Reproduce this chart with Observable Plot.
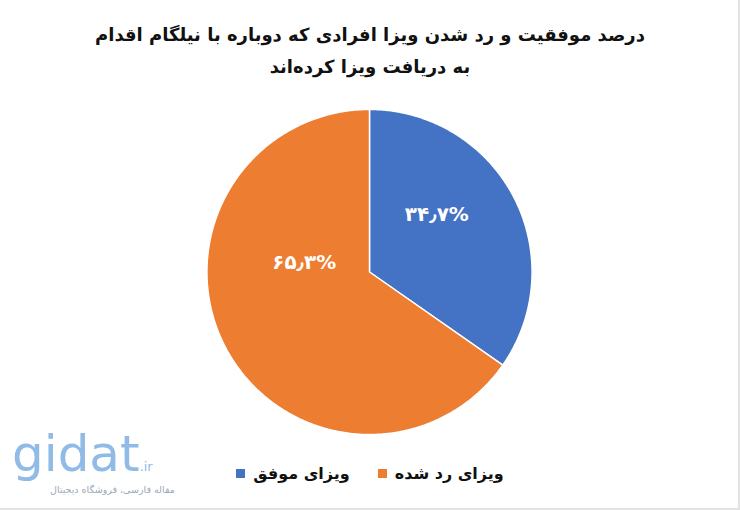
<!DOCTYPE html>
<html>
<head>
<meta charset="utf-8">
<script src="https://cdn.jsdelivr.net/npm/d3@7"></script>
<script src="https://cdn.jsdelivr.net/npm/@observablehq/plot@0.6"></script>
<style>
  html, body { margin: 0; padding: 0; background: #fff; }
  #wrap { position: relative; width: 738px; height: 508px; background: #fff;
          border-right: 2px solid #e2e2e2; border-bottom: 2px solid #e2e2e2; overflow: hidden;
          font-family: "DejaVu Sans", "Noto Sans", sans-serif; }
  #title { position: absolute; top: 19px; left: 0; width: 740px; text-align: center; direction: rtl;
           font-size: 18px; font-weight: bold; line-height: 32px; color: #111; }
  #chart { position: absolute; top: 90px; left: 0; }
  #legend { position: absolute; top: 464px; left: 0; width: 740px; text-align: center; direction: rtl;
            font-size: 16px; font-weight: bold; color: #111; }
  .item { display: inline-flex; align-items: center; margin: 0 14px; }
  .sw { width: 9px; height: 9px; display: inline-block; margin-right: 8px; }
  #wm { position: absolute; left: 12px; top: 428px; color: #8fbbe6; font-family: "DejaVu Sans", sans-serif; }
  #wm .big { font-size: 50px; line-height: 52px; }
  #wm .ir { font-size: 13px; }
  #wm .sub { position: absolute; left: 38px; top: 56px; white-space: nowrap; font-size: 9.5px; direction: rtl; color: #9aa8b8; }
</style>
</head>
<body>
<div id="wrap">
  <div id="title">درصد موفقیت و رد شدن ویزا افرادی که دوباره با نیلگام اقدام<br>به دریافت ویزا کرده‌اند</div>
  <div id="chart"></div>
  <div id="legend"></div>
  <div id="wm"><span class="big">gidat</span><span class="ir">.ir</span><div class="sub">مقاله فارسی، فروشگاه دیجیتال</div></div>
</div>
<script>
const categories = ["ویزای موفق", "ویزای رد شده"];
const values = [34.7, 65.3];
const colors = ["#4472C4", "#ED7D31"];
const legendOrder = ["ویزای رد شده", "ویزای موفق"];

const pie = d3.pie().sort(null).value(d => d.value)(categories.map((c, i) => ({cat: c, value: values[i]})));

// polygon outline of each slice (angle clockwise from 12 o'clock, unit radius)
const poly = [];
pie.forEach(s => {
  const n = Math.max(2, Math.ceil((s.endAngle - s.startAngle) / 0.01));
  poly.push({cat: s.data.cat, x: 0, y: 0});
  for (let k = 0; k <= n; k++) {
    const t = s.startAngle + (s.endAngle - s.startAngle) * k / n;
    poly.push({cat: s.data.cat, x: Math.sin(t), y: Math.cos(t)});
  }
  poly.push({cat: s.data.cat, x: 0, y: 0});
});

const labels = pie.map(s => {
  const m = (s.startAngle + s.endAngle) / 2;
  return {cat: s.data.cat, x: 0.55 * Math.sin(m), y: 0.55 * Math.cos(m),
          text: (s.data.value).toLocaleString("fa-IR", {minimumFractionDigits: 1}) + "%"};
});

const cx = 370, cy = 182, R = 163;
const chart = Plot.plot({
  width: 740, height: 364,
  margin: 0,
  x: {domain: [-1, 1], range: [cx - R, cx + R], axis: null},
  y: {domain: [-1, 1], range: [cy + R, cy - R], axis: null},
  color: {domain: categories, range: colors},
  marks: [
    Plot.line(poly, {x: "x", y: "y", z: "cat", fill: "cat", stroke: "white", strokeWidth: 1.5, curve: "linear"}),
    Plot.text(labels.filter(d => d.cat === categories[0]), {x: "x", y: "y", text: "text", fill: "white",
      fontSize: 20, fontWeight: "bold", dx: -12, dy: -16, fontFamily: "DejaVu Sans"}),
    Plot.text(labels.filter(d => d.cat === categories[1]), {x: "x", y: "y", text: "text", fill: "white",
      fontSize: 20, fontWeight: "bold", dx: 14, dy: -51, fontFamily: "DejaVu Sans"})
  ]
});
document.getElementById("chart").appendChild(chart);

const leg = document.getElementById("legend");
legendOrder.forEach(c => {
  const i = categories.indexOf(c);
  const it = document.createElement("span");
  it.className = "item";
  const txt = document.createElement("span");
  txt.textContent = c;
  const sw = document.createElement("span");
  sw.className = "sw";
  sw.style.background = colors[i];
  it.appendChild(txt);
  it.appendChild(sw);
  leg.appendChild(it);
});
</script>
</body>
</html>
